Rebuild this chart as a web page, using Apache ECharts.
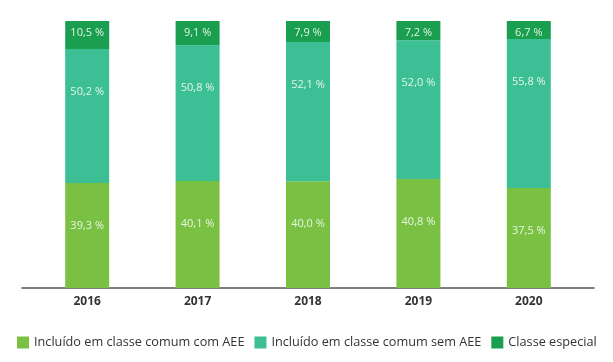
<!DOCTYPE html>
<html><head><meta charset="utf-8">
<script src="https://cdn.jsdelivr.net/npm/echarts@6/dist/echarts.min.js"></script>
<style>html,body{margin:0;padding:0;background:#fff}#c{width:613px;height:362px}</style>
</head><body><div id="c"></div>
<script>
const categories = ['2016','2017','2018','2019','2020'];
const comAEE = [39.3, 40.1, 40.0, 40.8, 37.5];
const semAEE = [50.2, 50.8, 52.1, 52.0, 55.8];
const especial = [10.5, 9.1, 7.9, 7.2, 6.7];
const seriesNames = ['Incluído em classe comum com AEE','Incluído em classe comum sem AEE','Classe especial'];
const colors = ['#7ac143','#3dbf95','#1a9e50'];

const fmt = p => p.value.toFixed(1).replace('.', ',') + ' %';
const lbl = (dist) => ({show:true, position:'insideTop', distance:dist, formatter:fmt,
  color:'rgba(235,248,235,0.95)', fontSize:11, fontFamily:'Open Sans'});

const chart = echarts.init(document.getElementById('c'), null, {renderer:'canvas'});
chart.setOption({
  animation:false,
  textStyle:{fontFamily:'Open Sans'},
  grid:[
    {left:32, width:552, top:21, bottom:74},
    {left:22, right:19, top:21, bottom:74}
  ],
  legend:{
    left:12, top:331, itemWidth:12, itemHeight:12, itemGap:10,
    icon:'rect',
    textStyle:{fontSize:12.7, color:'#333', fontFamily:'Open Sans'},
    data:seriesNames
  },
  xAxis:[
    {type:'category', gridIndex:0, data:categories,
     axisLine:{show:false}, axisTick:{show:false},
     axisLabel:{color:'#333', fontSize:12, fontWeight:'bold', margin:8}},
    {type:'value', gridIndex:1, min:0, max:1, axisLine:{show:true, onZero:false, lineStyle:{color:'#555', width:1.5}},
     axisTick:{show:false}, axisLabel:{show:false}, splitLine:{show:false}}
  ],
  yAxis:[
    {type:'value', gridIndex:0, min:0, max:100, show:false},
    {type:'value', gridIndex:1, min:0, max:100, show:false}
  ],
  series:[
    {name:seriesNames[0], type:'bar', stack:'s', data:comAEE, barWidth:44, itemStyle:{color:colors[0]}, label:lbl(37)},
    {name:seriesNames[1], type:'bar', stack:'s', data:semAEE, barWidth:44, itemStyle:{color:colors[1]}, label:lbl(37)},
    {name:seriesNames[2], type:'bar', stack:'s', data:especial, barWidth:44, itemStyle:{color:colors[2]}, label:lbl(6)}
  ]
});
</script></body></html>
